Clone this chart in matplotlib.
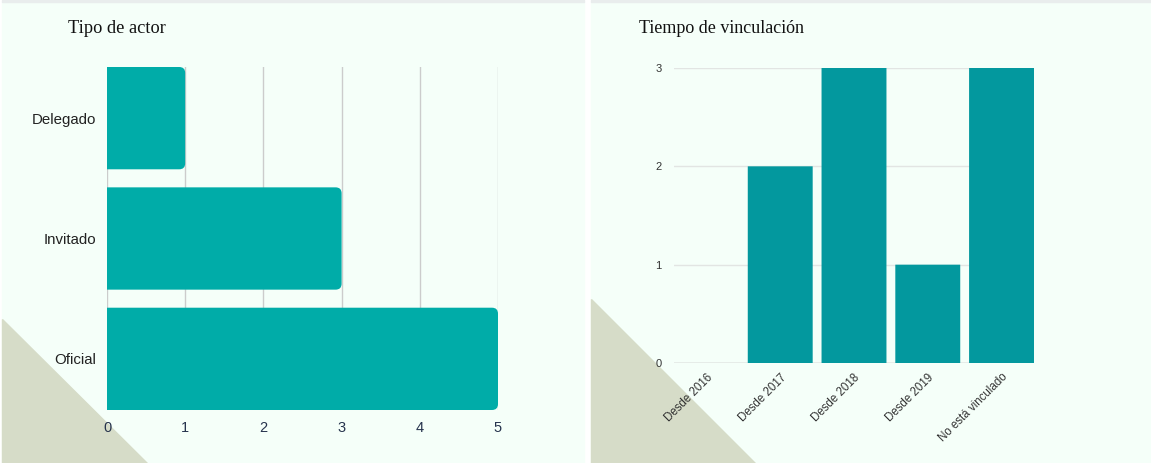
import matplotlib.pyplot as plt
from matplotlib.patches import Rectangle, Polygon, PathPatch
from matplotlib.path import Path
from matplotlib.transforms import IdentityTransform, ScaledTranslation

# data
actor_types = ['Delegado', 'Invitado', 'Oficial']
actor_counts = [1, 3, 5]
link_labels = ['Desde 2016', 'Desde 2017', 'Desde 2018', 'Desde 2019', 'No está vinculado']
link_counts = [0, 2, 3, 1, 3]

W, H = 1151, 463
BG = '#f5fff9'
TRI = '#d6dcc8'
LEFT_BAR = '#00aca8'
RIGHT_BAR = '#03989e'


def fx(px):
    return px / W


def fy(py):
    # pixel y measured from the top
    return 1 - py / H


fig = plt.figure(figsize=(W / 100, H / 100), dpi=100)
fig.patch.set_facecolor('white')

# panel backgrounds, top rule and corner triangles
fig.add_artist(Rectangle((fx(2), 0), fx(582), fy(2), transform=fig.transFigure, color=BG, zorder=-5))
fig.add_artist(Rectangle((fx(591), 0), fx(560), fy(2), transform=fig.transFigure, color=BG, zorder=-5))
fig.add_artist(Rectangle((fx(2), fy(1.5)), fx(582), 1.5 / H, transform=fig.transFigure, color='#e9eded', zorder=-5))
fig.add_artist(Rectangle((fx(591), fy(1.5)), fx(560), 1.5 / H, transform=fig.transFigure, color='#e9eded', zorder=-5))
fig.add_artist(Polygon([(fx(2), fy(319)), (fx(2), 0), (fx(147), 0)], closed=True,
                       transform=fig.transFigure, color=TRI, zorder=-4))
fig.add_artist(Polygon([(fx(591), fy(299)), (fx(591), 0), (fx(755), 0)], closed=True,
                       transform=fig.transFigure, color=TRI, zorder=-4))

fig.text(fx(68), fy(33), 'Tipo de actor', family='Liberation Serif', fontsize=13.2,
         color='#111111', va='baseline')
fig.text(fx(639), fy(33), 'Tiempo de vinculación', family='Liberation Serif', fontsize=13,
         color='#111111', va='baseline')


def rounded_bar(ax, bar, color, side, r=6):
    # replace a plain bar with one rounded at its far end (display coords)
    bb = bar.get_window_extent()
    bar.set_visible(False)
    x0, y0, x1, y1 = bb.x0, bb.y0, bb.x1, bb.y1
    if x1 - x0 <= 0 or y1 - y0 <= 0:
        return
    C, L, M = Path.CURVE3, Path.LINETO, Path.MOVETO
    if side == 'right':
        verts = [(x0, y0), (x1 - r, y0), (x1, y0), (x1, y0 + r), (x1, y1 - r),
                 (x1, y1), (x1 - r, y1), (x0, y1), (x0, y0)]
    else:
        verts = [(x0, y0), (x1, y0), (x1, y1 - r), (x1, y1), (x1 - r, y1),
                 (x0 + r, y1), (x0, y1), (x0, y1 - r), (x0, y0)]
    codes = [M, L, C, C, L, C, C, L, Path.CLOSEPOLY]
    ax.add_patch(PathPatch(Path(verts, codes), transform=IdentityTransform(),
                           facecolor=color, lw=0, clip_on=False, zorder=3))


# left: horizontal bars
ax1 = fig.add_axes([fx(107), fy(410), fx(391), 343 / H])
ax1.set_facecolor('none')
pos = list(range(len(actor_types)))[::-1]
bars1 = ax1.barh(pos, actor_counts, height=0.85, color=LEFT_BAR, zorder=3)
ax1.set_xlim(0, 5)
ax1.set_ylim(-0.425, 2.425)
ax1.set_yticks(pos)
ax1.set_yticklabels(actor_types, family='Liberation Sans', fontsize=10.8, color='#222222')
ax1.set_xticks(range(6))
ax1.set_xticklabels([str(i) for i in range(6)], family='Liberation Sans', fontsize=10.5,
                    color='#26334d')
ax1.tick_params(length=0)
ax1.tick_params(axis='y', pad=8)
ax1.tick_params(axis='x', pad=8)
ax1.grid(axis='x', color='#cccccc', lw=1)
ax1.set_axisbelow(True)
for s in ax1.spines.values():
    s.set_visible(False)

# right: vertical bars
ax2 = fig.add_axes([fx(674), fy(363), fx(360), 295 / H])
ax2.set_facecolor('none')
xpos = list(range(len(link_labels)))
bars2 = ax2.bar(xpos, link_counts, width=0.88, color=RIGHT_BAR, zorder=3)
ax2.set_xlim(-0.44, 4.44)
ax2.set_ylim(0, 3)
ax2.set_yticks(range(4))
ax2.set_yticklabels([str(i) for i in range(4)], family='Liberation Sans', fontsize=8,
                    color='#333333')
ax2.set_xticks(xpos)
ax2.set_xticklabels(link_labels, family='Liberation Sans', fontsize=8.3, color='#333333',
                    rotation=45, ha='right', va='top', rotation_mode='anchor')
shift = ScaledTranslation(4 / 100, 0, fig.dpi_scale_trans)
for lbl in ax2.get_xticklabels():
    lbl.set_transform(lbl.get_transform() + shift)
ax2.tick_params(length=0)
ax2.tick_params(axis='y', pad=9)
ax2.tick_params(axis='x', pad=6)
ax2.grid(axis='y', color='#e2e5e3', lw=1)
ax2.axhline(0, color='#bbbbbb', lw=1, zorder=2)
ax2.set_axisbelow(True)
for s in ax2.spines.values():
    s.set_visible(False)

fig.canvas.draw()
for b in bars1:
    rounded_bar(ax1, b, LEFT_BAR, 'right')
for b in bars2:
    rounded_bar(ax2, b, RIGHT_BAR, 'top')

fig.savefig('out.png', dpi=100, facecolor=fig.get_facecolor())
